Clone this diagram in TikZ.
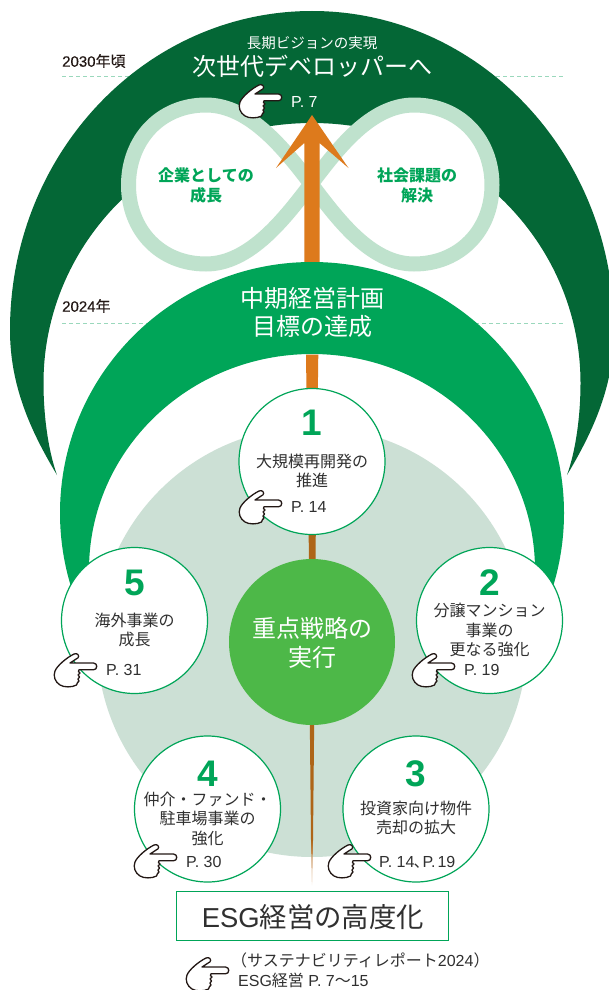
\documentclass[tikz,border=0pt]{standalone}
\usepackage{fontspec}
\setmainfont{Liberation Sans}
\newfontfamily\jpf{Noto Sans CJK JP}
\newfontfamily\yrl[FakeBold=0.35]{Liberation Sans}
\newfontfamily\yrj[FakeBold=0.25]{Noto Sans CJK JP}
\definecolor{darkg}{HTML}{046736}
\definecolor{midg}{HTML}{00A558}
\definecolor{pale}{HTML}{CCE0D5}
\definecolor{coreg}{HTML}{4DB848}
\definecolor{loopg}{HTML}{BFE2CD}
\definecolor{orng}{HTML}{DD7A1C}
\definecolor{brwn}{HTML}{AE6518}
\definecolor{ink}{HTML}{303030}
\definecolor{handk}{HTML}{231815}
\definecolor{dashg}{HTML}{9AD8BC}
\newcommand{\fs}[2]{\fontsize{#1}{#2}\selectfont}
\tikzset{
  txt/.style={inner sep=0pt,align=center,text=ink,font=\jpf\fs{16}{19.5}},
  wtxt/.style={txt,text=white},
  gtxt/.style={inner sep=0pt,align=center,text=midg,font=\jpf\bfseries\fs{16}{20}},
  num/.style={inner sep=0pt,text=midg,font=\bfseries\fs{37}{37}},
  pg/.style={inner sep=0pt,text=ink,font=\fs{16}{18},anchor=west},
  yr/.style={inner sep=0pt,text=handk,font=\yrl\fs{15}{17},anchor=west},
  disc/.style={circle,draw=midg,line width=1.2pt,fill=white,minimum size=146pt,inner sep=0pt},
  dashln/.style={draw=dashg,line width=0.8pt,dash pattern=on 4pt off 3pt},
  hand/.pic={
    \draw[draw=handk,fill=white,line width=1.3pt,line join=round]
      (20,1) .. controls (23,-0.5) and (26,2.5) .. (24,4.8) -- (16,10)
      -- (39.5,10) .. controls (43.8,10) and (43.8,16.8) .. (39.5,16.8) -- (25,16.8)
      .. controls (24,18) and (24,19) .. (26,20) .. controls (24,21) and (23,22.5) .. (25.5,24)
      .. controls (23.5,25.5) and (23.5,27) .. (25,28) .. controls (23,29) and (23.5,30.5) .. (22.5,32)
      .. controls (18,34.5) and (10,34.5) .. (6,32)
      .. controls (1,29) and (-1,23) .. (1,18) .. controls (3,13) and (12,5) .. (20,1) -- cycle;
  }
}
\begin{document}
\begin{tikzpicture}[x=1pt,y=-1pt]
\useasboundingbox (0,0) rectangle (609,990);
\clip (0,0) rectangle (609,990);
\fill[white] (0,0) rectangle (609,990);
% year lines
\coordinate (y30a) at (62,76); \coordinate (y30b) at (563,76);
\coordinate (y24a) at (62,323); \coordinate (y24b) at (563,323);
\draw[dashln] (y30a) -- (y30b);
\draw[dashln] (y24a) -- (y24b);
% dark crescent
\fill[darkg] (57,475) .. controls (30,430) and (10,385) .. (10,330)
  arc[start angle=180,end angle=360,x radius=302,y radius=319]
  .. controls (614,385) and (594,430) .. (567,475)
  .. controls (576,450) and (580.5,415) .. (580.5,383)
  arc[start angle=360,end angle=180,x radius=268.5,y radius=260]
  .. controls (43.5,415) and (48,450) .. (57,475) -- cycle;
% infinity
\draw[loopg,line width=15pt,fill=white,line join=round]
  (311,184) .. controls (285,150) and (250,105) .. (206,105)
  .. controls (160,105) and (128.5,140) .. (128.5,185)
  .. controls (128.5,230) and (160,264) .. (206,264)
  .. controls (250,264) and (285,218) .. (311,184)
  .. controls (337,150) and (370,105) .. (414,105)
  .. controls (460,105) and (492,140) .. (492,185)
  .. controls (492,230) and (460,264) .. (414,264)
  .. controls (370,264) and (337,218) .. (311,184) -- cycle;
% arrow
\fill[orng] (312,115) -- (348.5,168) -- (319.5,143) -- (319.5,275) -- (304.3,275) -- (304.3,143) -- (276,168) -- cycle;
% mid dome
\begin{scope}
\clip (0,0) rectangle (609,600);
\fill[midg,even odd rule] (312,513) ellipse [x radius=252,y radius=251]
  (312,570) ellipse [x radius=223,y radius=216];
\end{scope}
% pale disc
\fill[pale] (312,642) circle (215);
% stem
\fill[orng] (306,354.5) -- (318.3,354.5) -- (317.8,392) -- (306.5,392) -- cycle;
\fill[brwn] (308.6,530) -- (315.8,530) -- (315.5,565) -- (309,565) -- cycle;
\fill[brwn] (309.8,720) -- (314.2,720) -- (313,840) -- (311,840) -- cycle;
\shade[top color=brwn,bottom color=orng!15] (311,840) -- (313,840) -- (312.2,885) -- (311.8,885) -- cycle;
% core
\node[circle,fill=coreg,minimum size=166pt,inner sep=0pt] (core) at (312,642) {};
\node[wtxt,font=\jpf\fs{24}{29}] (coret) at (312,642.5) {重点戦略の\\実行};
% strategy discs
\node[disc] (d1) at (312,461.5) {};
\node[disc] (d2) at (489.5,620.5) {};
\node[disc] (d3) at (416,809) {};
\node[disc] (d4) at (207.5,809) {};
\node[disc] (d5) at (134.5,620.5) {};
\node[num] (n1) at (312,423) {1};
\node[num] (n2) at (489.5,583) {2};
\node[num] (n3) at (416,774) {3};
\node[num] (n4) at (207.5,774) {4};
\node[num] (n5) at (134.5,583) {5};
\node[txt] (t1) at (312,471) {大規模再開発の\\推進};
\node[txt] (t2) at (489.5,630) {分譲マンション\\事業の\\更なる強化};
\node[txt] (t3) at (416,818) {投資家向け物件\\売却の拡大};
\node[txt] (t4) at (207.5,818.5) {仲介・ファンド・\\駐車場事業の\\強化};
\node[txt] (t5) at (134.5,630) {海外事業の\\成長};
\node[pg] (p1) at (291,507) {P. 14};
\node[pg] (p2) at (464,670) {P. 19};
\node[pg] (p3) at (379,862) {P. 14\kern-1pt{\jpf 、}\kern-7pt P.\kern2pt 19};
\node[pg] (p4) at (186,862) {P. 30};
\node[pg] (p5) at (106,670) {P. 31};
\pic at (239,490) {hand};
\pic at (412,653) {hand};
\pic at (328,844) {hand};
\pic at (134,844) {hand};
\pic at (54,653) {hand};
% top texts
\node[wtxt,font=\jpf\fs{14.5}{17}] (vis) at (312,43) {長期ビジョンの実現};
\node[wtxt,font=\jpf\fs{24}{28}] (next) at (312,66.5) {次世代デベロッパーへ};
\pic at (239,84) {hand};
\node[pg,text=white] (p0) at (291,102) {P. 7};
\node[gtxt] (l1) at (206,185) {企業としての\\成長};
\node[gtxt] (l2) at (417,185) {社会課題の\\解決};
\node[wtxt,font=\jpf\fs{24}{28}] (plan) at (312,312.5) {中期経営計画\\目標の達成};
\node[yr] (y30) at (62,61) {2030{\yrj 年頃}};
\node[yr] (y24) at (62,306) {2024{\yrj 年}};
% ESG
\node[draw=midg,line width=1.2pt,fill=white,minimum width=272pt,minimum height=49pt,inner sep=0pt] (esg) at (312.7,916.2) {};
\node[inner sep=0pt,text=ink,font=\fs{27.4}{30}] (esgt) at (313,917) {ESG{\jpf 経営の高度化}};
\pic at (186,957) {hand};
\node[inner sep=0pt,text=ink,font=\fs{16}{20},anchor=north west,align=left] (foot) at (238,952.5) {\kern-7pt{\jpf （サステナビリティレポート}2024{\jpf ）}\\ESG{\jpf 経営} P. 7{\jpf 〜}15};
\end{tikzpicture}
\end{document}
